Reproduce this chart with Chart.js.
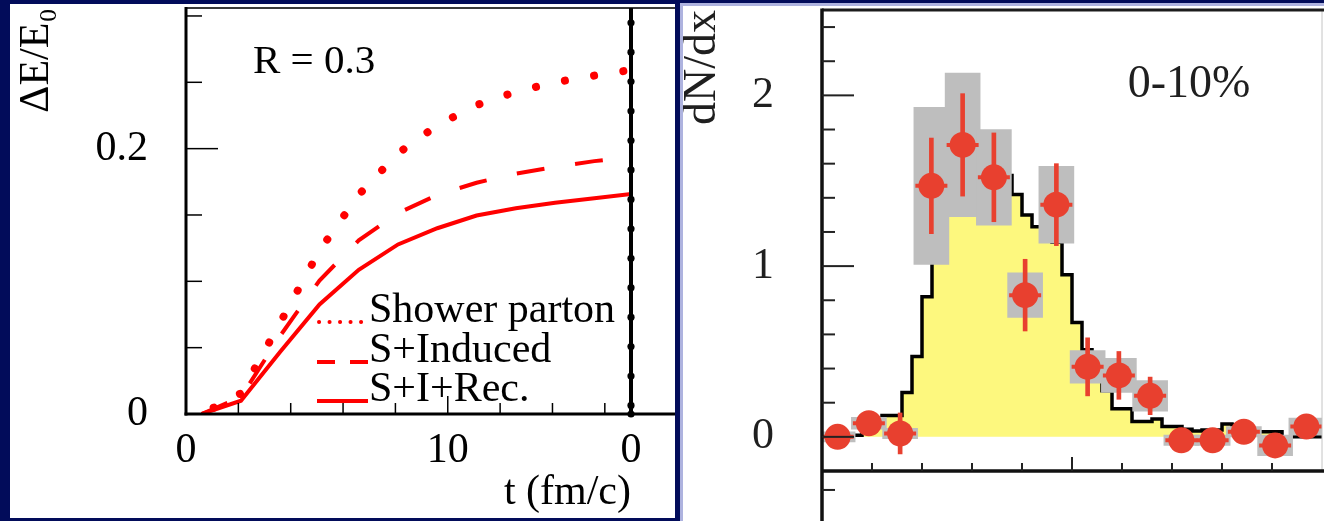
<!DOCTYPE html>
<html>
<head>
<meta charset="utf-8">
<script src="https://cdn.jsdelivr.net/npm/chart.js@4.4.1/dist/chart.umd.min.js"></script>
<style>
  html, body { margin: 0; padding: 0; }
  body { width: 1324px; height: 521px; background: #020c5a; position: relative; overflow: hidden; }
  .panel { position: absolute; background: #fff; box-sizing: border-box; }
  #left { left: 10px; top: 4px; width: 665px; height: 514px; }
  #right { left: 680px; top: 3px; width: 644px; height: 518px; border-left: 3px solid #aeb3df; border-top: 3px solid #aeb3df; }
  canvas { display: block; }
  #rightCanvas { filter: blur(0.6px); }
</style>
</head>
<body>
<div class="panel" id="left"><canvas id="leftCanvas" width="665" height="514"></canvas></div>
<div class="panel" id="right"><canvas id="rightCanvas" width="641" height="515"></canvas></div>
<script>
// ---- energy loss inside the cone, R = 0.3 ----
const tGrid = [0.6, 2.1, 3.6, 5.1, 6.6, 8.1, 9.6, 11.1, 12.6, 14.1, 15.6, 17.1];
const showerParton = [0, 0.0156, 0.0689, 0.1232, 0.1653, 0.1965, 0.2176, 0.2328, 0.2429, 0.2500, 0.2551, 0.2596];
const sInduced = [0, 0.0128, 0.0590, 0.1006, 0.1309, 0.1514, 0.1651, 0.1743, 0.1812, 0.1863, 0.1906, 0.1940];
const sIRec = [0, 0.0100, 0.0470, 0.0826, 0.1087, 0.1278, 0.1400, 0.1496, 0.1550, 0.1592, 0.1626, 0.1660];
const legendLabels = ['Shower parton', 'S+Induced', 'S+I+Rec.'];

// the frame is cut at t = 17, where the next panel's zero starts
const tTicks = [0, 10, 17];
const tTickText = ['0', '10', '0'];
const tMinor = [2, 4, 6, 8, 12, 14, 16];
const dETicks = [0, 0.2];
const dEMinor = [0.05, 0.1, 0.15, 0.25, 0.3];

// ---- dN/dx, 0-10% ----
const xBinCenters = [0.03125, 0.09375, 0.15625, 0.21875, 0.28125, 0.34375, 0.40625, 0.46875,
  0.53125, 0.59375, 0.65625, 0.71875, 0.78125, 0.84375, 0.90625, 0.96875];
const dNdx = [0.00, 0.08, 0.02, 1.47, 1.71, 1.52, 0.83, 1.36, 0.41, 0.36, 0.24, -0.02, -0.02, 0.03, -0.05, 0.06];
const statErr = [0.05, 0.05, 0.12, 0.28, 0.30, 0.26, 0.21, 0.24, 0.17, 0.14, 0.11, 0.05, 0.05, 0.05, 0.06, 0.06];
const sysErr = [0.03, 0.035, 0.03, 0.46, 0.42, 0.28, 0.13, 0.225, 0.095, 0.10, 0.09, 0.03, 0.03, 0.03, 0.06, 0.05];

// model histogram, 50 bins of width 0.02
const mcBinWidth = 0.02;
const mcValues = [
  0.00, 0.00, 0.00, 0.01, 0.05, 0.09, 0.125, 0.125, 0.26, 0.47,
  0.82, 1.15, 1.35, 1.42, 1.48, 1.55, 1.57, 1.55, 1.53, 1.42,
  1.30, 1.23, 1.18, 1.14, 0.95, 0.67, 0.51, 0.40, 0.27, 0.165,
  0.165, 0.09, 0.09, 0.105, 0.06, 0.06, 0.045, 0.035, 0.04, 0.04,
  0.075, 0.07, 0.05, 0.03, 0.03, 0.03, 0.00, 0.00, 0.00, 0.00,
];

const dNdxTicks = [0, 1, 2];
const dNdxMinor = [0.2, 0.4, 0.6, 0.8, 1.2, 1.4, 1.6, 1.8, 2.2, 2.4];
const xMinor = [0.1, 0.2, 0.3, 0.4, 0.6, 0.7, 0.8, 0.9];
const xMajor = [0.5];

const SERIF = '"Liberation Serif", "Times New Roman", serif';
const RED = '#ff0000';
const DATA_RED = '#e8402f';
const SYS_GRAY = '#bebebe';
const YELLOW = '#fdf87e';

const zip = (xs, ys) => xs.map((x, i) => ({ x, y: ys[i] }));

function stroke(ctx, pts, width, color) {
  ctx.beginPath();
  ctx.moveTo(pts[0], pts[1]);
  for (let i = 2; i < pts.length; i += 2) ctx.lineTo(pts[i], pts[i + 1]);
  ctx.lineWidth = width;
  ctx.strokeStyle = color;
  ctx.stroke();
}

// frame, inward ticks, label and legend of the left panel
const leftFrame = {
  id: 'leftFrame',
  afterDraw(chart) {
    const { ctx, chartArea: ca, scales: { x, y } } = chart;
    ctx.save();
    ctx.lineCap = 'butt';
    stroke(ctx, [ca.left, ca.top, chart.width, ca.top], 2, '#3a3a3a');
    stroke(ctx, [ca.left, ca.top - 1, ca.left, ca.bottom + 1.5], 3, '#000');
    stroke(ctx, [ca.left - 1.5, ca.bottom, chart.width, ca.bottom], 3, '#000');

    dETicks.concat(dEMinor).forEach(v => {
      const py = y.getPixelForValue(v);
      const len = dETicks.includes(v) ? 32 : 16;
      stroke(ctx, [ca.left, py, ca.left + len, py], 1.5, '#000');
    });
    tTicks.slice(0, 2).concat(tMinor).forEach(v => {
      const px = x.getPixelForValue(v);
      const len = tTicks.includes(v) ? 18 : 11;
      stroke(ctx, [px, ca.bottom, px, ca.bottom - len], 1.5, '#000');
    });

    // axis of the neighbouring panel
    const xe = x.getPixelForValue(17);
    stroke(ctx, [xe, ca.top, xe, ca.bottom + 3], 4, '#000');
    ctx.fillStyle = '#000';
    for (let v = 0.2949; v > 0; v -= 0.02219) {
      ctx.beginPath();
      ctx.arc(xe, y.getPixelForValue(v), 3.6, 0, Math.PI * 2);
      ctx.fill();
    }
    ctx.beginPath();
    ctx.arc(xe, ca.bottom, 3.6, 0, Math.PI * 2);
    ctx.fill();

    ctx.fillStyle = '#000';
    ctx.textAlign = 'left';
    ctx.textBaseline = 'alphabetic';
    ctx.font = `41px ${SERIF}`;
    ctx.fillText('R = 0.3', ca.left + 67, ca.top + 65);

    // legend
    const lx0 = ca.left + 131;
    const lx1 = ca.left + 182;
    const rows = [ca.top + 314, ca.top + 354, ca.top + 393];
    ctx.lineCap = 'round';
    ctx.setLineDash([0.1, 10.4]);
    stroke(ctx, [lx0 + 2, rows[0], lx1, rows[0]], 4, RED);
    ctx.lineCap = 'butt';
    ctx.setLineDash([18, 15]);
    stroke(ctx, [lx0, rows[1], lx1, rows[1]], 4, RED);
    ctx.setLineDash([]);
    stroke(ctx, [lx0, rows[2], lx1, rows[2]], 4, RED);

    ctx.font = `42px ${SERIF}`;
    legendLabels.forEach((txt, i) => ctx.fillText(txt, lx1 + 1, rows[i]));
    ctx.restore();
  },
};

new Chart(document.getElementById('leftCanvas'), {
  type: 'line',
  data: {
    datasets: [
      {
        label: legendLabels[0], data: zip(tGrid, showerParton),
        borderColor: RED, borderWidth: 8, borderDash: [0.1, 29.5], borderDashOffset: 16,
        borderCapStyle: 'round', pointRadius: 0, tension: 0,
      },
      {
        label: legendLabels[1], data: zip(tGrid, sInduced),
        borderColor: RED, borderWidth: 4, borderDash: [28, 31], pointRadius: 0, tension: 0,
      },
      {
        label: legendLabels[2], data: zip(tGrid, sIRec),
        borderColor: RED, borderWidth: 4, pointRadius: 0, tension: 0,
      },
    ],
  },
  options: {
    responsive: false,
    animation: false,
    events: [],
    layout: { autoPadding: false, padding: { left: 0, right: 44, top: 4, bottom: 0 } },
    plugins: { legend: { display: false }, tooltip: { enabled: false } },
    scales: {
      x: {
        type: 'linear', min: 0, max: 17,
        grid: { display: false, drawTicks: false },
        border: { display: false },
        afterBuildTicks: s => { s.ticks = tTicks.map(v => ({ value: v })); },
        afterFit: s => { s.height = 104; s.paddingLeft = 0; s.paddingRight = 0; },
        ticks: {
          padding: 12, autoSkip: false, maxRotation: 0, color: '#000',
          font: { family: SERIF, size: 42 },
          callback: (v, i) => tTickText[i],
        },
        title: {
          display: true, text: 't (fm/c)', align: 'end', color: '#000', padding: 0,
          font: { family: SERIF, size: 42 },
        },
      },
      y: {
        type: 'linear', min: 0, max: 0.306,
        grid: { display: false, drawTicks: false },
        border: { display: false },
        afterBuildTicks: s => { s.ticks = dETicks.map(v => ({ value: v })); },
        afterFit: s => { s.width = 176; s.paddingTop = 0; s.paddingBottom = 0; },
        ticks: {
          padding: 38, color: '#000',
          font: { family: SERIF, size: 42 },
          callback: v => (v === 0 ? '0' : v.toFixed(1)),
        },
        title: {
          display: true, text: 'ΔE/E₀', align: 'end', color: '#000', padding: { top: 2 },
          font: { family: SERIF, size: 42 },
        },
      },
    },
  },
  plugins: [leftFrame],
});

// frame, ticks and centrality label of the right panel
const rightFrame = {
  id: 'rightFrame',
  afterDraw(chart) {
    const { ctx, chartArea: ca, scales: { x, y } } = chart;
    ctx.save();
    ctx.lineCap = 'butt';
    stroke(ctx, [ca.right, ca.top, ca.right, ca.bottom], 1, '#c4c4c4');
    stroke(ctx, [ca.left, ca.top, chart.width, ca.top], 3, '#1c1c1c');
    stroke(ctx, [ca.left, ca.top - 1.5, ca.left, chart.height], 3.5, '#111');
    stroke(ctx, [ca.left, ca.bottom, chart.width, ca.bottom], 3.5, '#111');

    dNdxTicks.concat(dNdxMinor).forEach(v => {
      const py = y.getPixelForValue(v);
      const len = dNdxTicks.includes(v) ? 32 : 13;
      stroke(ctx, [ca.left, py, ca.left + len, py], 2, '#222');
    });
    // first tick of the panel below
    const pyBelow = y.getPixelForValue(-0.311);
    stroke(ctx, [ca.left, pyBelow, ca.left + 13, pyBelow], 2, '#222');

    xMinor.concat(xMajor).forEach(v => {
      const px = x.getPixelForValue(v);
      const len = xMajor.includes(v) ? 14 : 8;
      stroke(ctx, [px, ca.bottom, px, ca.bottom - len], 2, '#222');
    });

    ctx.fillStyle = '#1f1f1f';
    ctx.textAlign = 'center';
    ctx.textBaseline = 'alphabetic';
    ctx.font = `46px ${SERIF}`;
    ctx.fillText('0-10%', ca.left + 367, ca.top + 87);
    ctx.restore();
  },
};

const mcPoints = mcValues.map((v, i) => ({ x: i * mcBinWidth, y: v }));
mcPoints.push({ x: mcValues.length * mcBinWidth, y: mcValues[mcValues.length - 1] });

const dataPoints = zip(xBinCenters, dNdx);
const statBars = xBinCenters.map((x, i) => ({ x, y: [dNdx[i] - statErr[i], dNdx[i] + statErr[i]] }));
const sysBars = xBinCenters.map((x, i) => ({ x, y: [dNdx[i] - sysErr[i], dNdx[i] + sysErr[i]] }));

new Chart(document.getElementById('rightCanvas'), {
  type: 'scatter',
  data: {
    datasets: [
      {
        type: 'scatter', data: dataPoints, order: 0,
        pointStyle: 'circle', pointRadius: 13, pointBackgroundColor: DATA_RED, pointBorderWidth: 0,
      },
      {
        type: 'scatter', data: dataPoints, order: 1,
        pointStyle: 'line', pointRadius: 16, pointBorderColor: DATA_RED, pointBorderWidth: 4,
      },
      {
        type: 'bar', data: statBars, order: 2,
        backgroundColor: DATA_RED, barThickness: 4, grouped: false,
      },
      {
        type: 'bar', data: sysBars, order: 3,
        backgroundColor: SYS_GRAY, barThickness: 35, grouped: false,
      },
      {
        type: 'line', data: mcPoints, order: 4, stepped: true,
        fill: 'origin', backgroundColor: YELLOW, borderColor: '#000', borderWidth: 3.5,
        pointRadius: 0,
      },
    ],
  },
  options: {
    responsive: false,
    animation: false,
    events: [],
    layout: { autoPadding: false, padding: { left: 0, right: 2, top: 4, bottom: 0 } },
    plugins: { legend: { display: false }, tooltip: { enabled: false } },
    scales: {
      x: {
        type: 'linear', min: 0, max: 1, offset: false,
        grid: { display: false, drawTicks: false, offset: false },
        border: { display: false },
        ticks: { display: false },
        afterFit: s => { s.height = 50; s.paddingLeft = 0; s.paddingRight = 0; },
      },
      y: {
        type: 'linear', min: -0.2, max: 2.5,
        grid: { display: false, drawTicks: false },
        border: { display: false },
        afterBuildTicks: s => { s.ticks = dNdxTicks.map(v => ({ value: v })); },
        afterFit: s => { s.width = 139; s.paddingTop = 0; s.paddingBottom = 0; },
        ticks: {
          padding: 48, color: '#1f1f1f',
          font: { family: SERIF, size: 44 },
          callback: v => String(v),
        },
        title: {
          display: true, text: 'dN/dx', align: 'end', color: '#1f1f1f', padding: 0,
          font: { family: SERIF, size: 46, lineHeight: 0.85 },
        },
      },
    },
  },
  plugins: [rightFrame],
});
</script>
</body>
</html>
